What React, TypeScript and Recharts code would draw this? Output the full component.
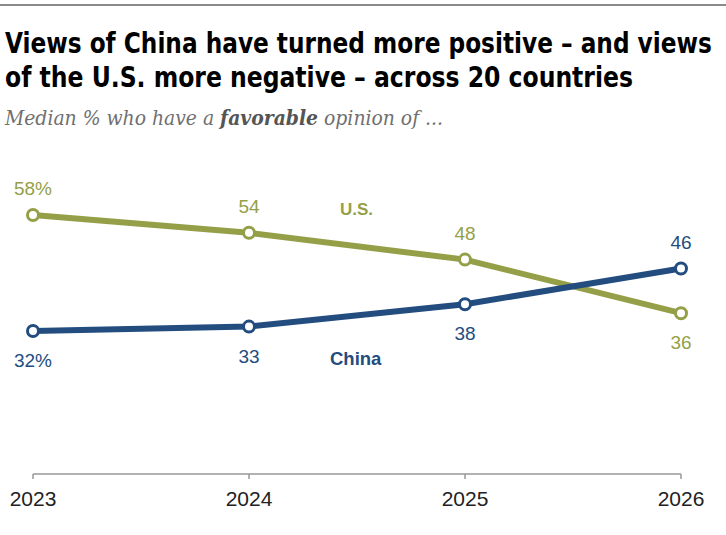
import { LineChart, Line, XAxis, YAxis, LabelList } from 'recharts'

const years = ['2023', '2024', '2025', '2026']
const usValues = [58, 54, 48, 36]
const chinaValues = [32, 33, 38, 46]
// label sits above the point (true) or below it (false)
const usAbove = [true, true, true, false]
const chinaAbove = [false, false, false, true]

const US = '#949F48'
const CHINA = '#234C7F'
const SANS = '"Liberation Sans", Arial, sans-serif'

const data = years.map((year, i) => ({ year, us: usValues[i], china: chinaValues[i] }))

function valueLabel(color: string, above: boolean[]) {
  return (props: any) => {
    const { x, y, value, index } = props
    const up = above[index]
    return (
      <text
        x={x}
        y={up ? y - 20 : y + 36}
        textAnchor="middle"
        fill={color}
        fontSize={19}
        fontFamily={SANS}
      >
        {index === 0 ? `${value}%` : value}
      </text>
    )
  }
}

export default function App() {
  return (
    <div style={{ position: 'absolute', left: 0, top: 0, width: 726, height: 535, background: '#fff', overflow: 'hidden' }}>
      <div style={{ position: 'absolute', left: 0, top: 0 }}>
        <LineChart width={726} height={535} data={data} margin={{ top: 206, right: 45, bottom: 31, left: 33 }}>
          <XAxis
            dataKey="year"
            height={30}
            axisLine={{ stroke: '#999', strokeWidth: 1.5 }}
            tickLine={{ stroke: '#999', strokeWidth: 1.5 }}
            tickSize={5}
            tickMargin={12}
            tick={{ fill: '#222', fontSize: 21, fontFamily: SANS }}
          />
          <YAxis hide domain={[0, 60]} />
          <Line
            dataKey="us"
            type="linear"
            stroke={US}
            strokeWidth={6}
            dot={{ r: 5.5, fill: '#fff', stroke: US, strokeWidth: 3 }}
            isAnimationActive={false}
          >
            <LabelList dataKey="us" content={valueLabel(US, usAbove)} />
          </Line>
          <Line
            dataKey="china"
            type="linear"
            stroke={CHINA}
            strokeWidth={6}
            dot={{ r: 5.5, fill: '#fff', stroke: CHINA, strokeWidth: 3 }}
            isAnimationActive={false}
          >
            <LabelList dataKey="china" content={valueLabel(CHINA, chinaAbove)} />
          </Line>
        </LineChart>
      </div>

      <svg width={726} height={535} style={{ position: 'absolute', left: 0, top: 0, pointerEvents: 'none' }}>
        <line x1={0} x2={726} y1={5} y2={5} stroke="#8a8a8a" strokeWidth={2} />
        <g
          transform="translate(5,0) scale(0.95,1)"
          fontFamily='"DejaVu Sans Condensed", "DejaVu Sans", sans-serif'
          fontWeight={700}
          fontSize={27.5}
          fill="#000"
        >
          <text x={0} y={53} textLength={744} lengthAdjust="spacingAndGlyphs">
            Views of China have turned more positive – and views
          </text>
          <text x={0} y={87} textLength={661} lengthAdjust="spacingAndGlyphs">
            of the U.S. more negative – across 20 countries
          </text>
        </g>
        <text
          x={5}
          y={125}
          textLength={438}
          lengthAdjust="spacingAndGlyphs"
          fontFamily='"DejaVu Serif Condensed", "DejaVu Serif", serif'
          fontStyle="italic"
          fontSize={20}
          fill="#6f6f6f"
        >
          Median % who have a <tspan fontWeight={700} fill="#555">favorable</tspan> opinion of ...
        </text>
        <text x={340} y={215} fontFamily={SANS} fontWeight={700} fontSize={17} fill={US}>
          U.S.
        </text>
        <text x={330} y={365} fontFamily={SANS} fontWeight={700} fontSize={18.5} fill={CHINA}>
          China
        </text>
      </svg>
    </div>
  )
}
